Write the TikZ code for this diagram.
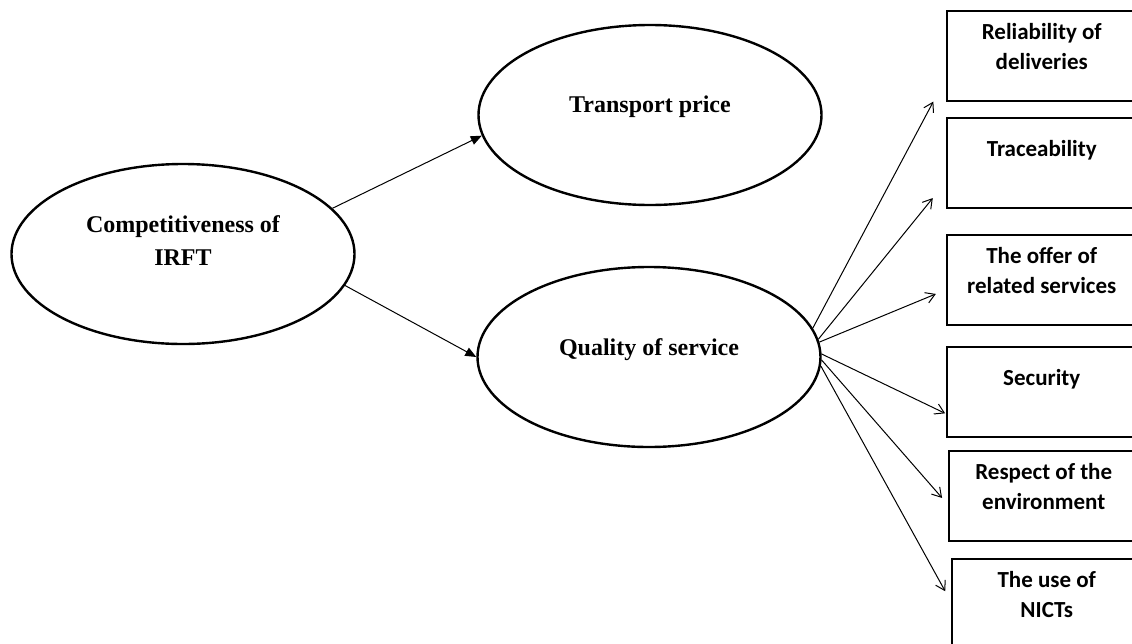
\documentclass[tikz,border=0pt]{standalone}
\usepackage{fontspec}
\usepackage{tikz}
\usetikzlibrary{shapes.geometric,arrows.meta}
\newfontfamily\ovalfont{Liberation Serif}
\newfontfamily\critfont{Carlito}

\begin{document}
\begin{tikzpicture}[x=1pt,y=-1pt,
    oval/.style={ellipse,draw,line width=2.4pt,minimum width=343pt,
        minimum height=180pt,inner sep=0pt,align=center,
        font=\ovalfont\bfseries\fontsize{24}{33}\selectfont},
    crit/.style={rectangle,draw,line width=1.5pt,anchor=north west,
        minimum width=190pt,inner sep=0pt,align=center,
        text height=59pt,text depth=31pt,
        font=\critfont\bfseries\fontsize{23}{30}\selectfont},
    single/.style={text height=39pt,text depth=51pt},
    link/.style={line width=1pt,-{Triangle[length=11pt,width=9pt]}},
    spoke/.style={line width=1pt,-{Straight Barb[length=9pt,width=11pt]}}]
    \clip (0,0) rectangle (1132,643);

    % the three ovals
    \node[oval,text height=40pt,text depth=18pt] (comp) at (183,254)
        {Competitiveness of\\IRFT};
    \node[oval,text height=17pt,text depth=23pt] (price) at (650,115)
        {Transport price};
    \node[oval,text height=17pt,text depth=21pt] (qual) at (649,357)
        {Quality of service};

    % criteria of the quality of service
    \node[crit] (rel) at (946,10) {Reliability of\\deliveries};
    \node[crit,single] (trace) at (946,117) {Traceability};
    \node[crit] (offer) at (946,234) {The offer of\\related services};
    \node[crit,single] (secu) at (946,346) {Security};
    \node[crit] (resp) at (948,450) {Respect of the\\environment};
    \node[crit] (nict) at (951,558) {The use of\\NICTs};

    \draw[link] (comp.17) -- (price.187);
    \draw[link] (comp.-11) -- (qual.west);

    \draw[spoke,shorten >=27pt] (qual.10) -- ([yshift=-22pt]rel.west);
    \draw[spoke,shorten >=21pt] (qual.6) -- ([yshift=-19pt]trace.west);
    \draw[spoke,shorten >=11pt] (qual.5) -- ([yshift=-10pt]offer.west);
    \draw[spoke,shorten >=1pt] (qual.1) -- ([yshift=-22pt]secu.west);
    \draw[spoke,shorten >=9pt] (qual.-1) -- ([yshift=-9pt]resp.west);
    \draw[spoke,shorten >=12pt] (qual.-3) -- ([yshift=2pt]nict.west);
\end{tikzpicture}
\end{document}
